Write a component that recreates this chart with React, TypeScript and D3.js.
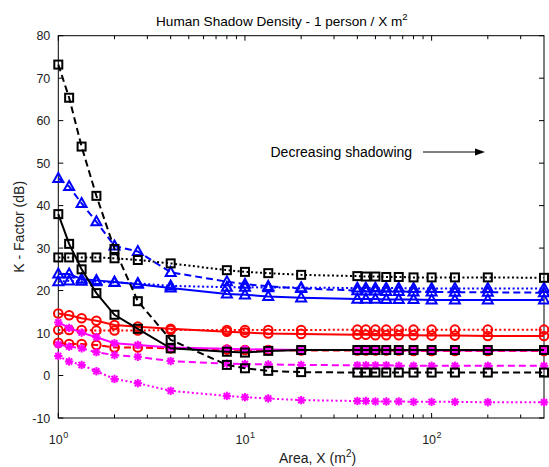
import React from "react";
import * as d3 from "d3";

const area = [1, 1.143, 1.333, 1.6, 2, 2.667, 4, 8, 10, 13.33, 20, 40, 44.44, 50, 57.14, 66.67, 80, 100, 133.3, 200, 400];

const blackDashed = [73.2, 65.4, 53.9, 42.3, 29.8, 17.5, 8.4, 2.5, 1.7, 1.1, 0.8, 0.7, 0.7, 0.7, 0.7, 0.7, 0.7, 0.7, 0.7, 0.7, 0.7];
const blackSolid = [38.0, 31.0, 25.0, 19.4, 14.3, 11.0, 6.4, 5.6, 5.4, 5.8, 6.0, 6.0, 6.0, 6.0, 6.0, 6.0, 6.0, 6.0, 6.0, 6.0, 6.0];
const blackDotted = [27.8, 27.8, 27.8, 27.8, 27.6, 27.2, 26.4, 24.8, 24.4, 24.1, 23.7, 23.4, 23.3, 23.3, 23.2, 23.2, 23.1, 23.1, 23.1, 23.1, 23.0];

const blueDashed = [46.4, 44.5, 40.5, 36.2, 30.5, 29.2, 24.3, 22.1, 21.5, 21.0, 20.5, 20.0, 19.9, 19.9, 19.8, 19.8, 19.7, 19.7, 19.6, 19.6, 19.5];
const blueSolid = [23.9, 23.9, 22.7, 22.4, 22.0, 21.5, 20.6, 19.2, 19.0, 18.6, 18.3, 18.0, 18.0, 18.0, 17.9, 17.9, 17.9, 17.8, 17.8, 17.8, 17.8];
const blueDotted = [22.1, 22.3, 22.2, 22.1, 21.9, 21.7, 21.1, 20.8, 20.8, 20.7, 20.7, 20.6, 20.6, 20.6, 20.6, 20.6, 20.5, 20.5, 20.5, 20.5, 20.5];

const redSolid = [14.6, 14.2, 13.5, 12.9, 11.9, 11.5, 11.0, 10.3, 10.1, 9.9, 9.8, 9.6, 9.6, 9.5, 9.5, 9.5, 9.5, 9.4, 9.4, 9.3, 9.3];
const redDotted = [10.7, 10.7, 10.7, 10.6, 10.6, 10.6, 10.7, 10.7, 10.7, 10.7, 10.7, 10.8, 10.8, 10.8, 10.8, 10.8, 10.8, 10.8, 10.8, 10.8, 10.8];
const redDashed = [7.7, 7.4, 7.4, 7.2, 6.6, 6.6, 6.4, 6.1, 6.0, 6.0, 5.9, 5.9, 5.9, 5.9, 5.9, 5.9, 5.8, 5.8, 5.8, 5.8, 5.8];

const magentaSolid = [12.5, 11.2, 10.1, 9.0, 7.6, 7.2, 6.6, 6.3, 6.2, 6.1, 6.0, 6.0, 6.0, 6.0, 6.0, 5.9, 5.9, 5.9, 5.9, 5.9, 5.9];
const magentaDashed = [7.3, 6.8, 6.4, 5.5, 4.8, 4.4, 3.4, 2.8, 2.7, 2.6, 2.5, 2.4, 2.4, 2.4, 2.4, 2.3, 2.3, 2.3, 2.3, 2.3, 2.3];
const magentaDotted = [4.6, 3.3, 2.5, 1.0, -0.8, -1.8, -3.6, -4.8, -5.1, -5.4, -5.8, -6.0, -6.0, -6.1, -6.1, -6.1, -6.2, -6.2, -6.2, -6.3, -6.3];

const yTicks = [-10, 0, 10, 20, 30, 40, 50, 60, 70, 80];
const xMajor = [1, 10, 100];
const xMajorExp = ["0", "1", "2"];

type Series = { values: number[]; color: string; dash: string; marker: string };

const series: Series[] = [
  { values: blueSolid, color: "#0000ff", dash: "", marker: "tri" },
  { values: blueDashed, color: "#0000ff", dash: "7,4", marker: "tri" },
  { values: blueDotted, color: "#0000ff", dash: "2,2.5", marker: "tri" },
  { values: redSolid, color: "#ff0000", dash: "", marker: "circle" },
  { values: redDashed, color: "#ff0000", dash: "7,4", marker: "circle" },
  { values: redDotted, color: "#ff0000", dash: "2,2.5", marker: "circle" },
  { values: magentaSolid, color: "#ff00ff", dash: "", marker: "star" },
  { values: magentaDashed, color: "#ff00ff", dash: "7,4", marker: "star" },
  { values: magentaDotted, color: "#ff00ff", dash: "2,2.5", marker: "star" },
  { values: blackSolid, color: "#000000", dash: "", marker: "square" },
  { values: blackDashed, color: "#000000", dash: "7,4", marker: "square" },
  { values: blackDotted, color: "#000000", dash: "2,2.5", marker: "square" },
];

const W = 549, H = 467;
const L = 58.3, R = 544, T = 35.7, B = 418;
const FONT = "'Liberation Sans', Arial, Helvetica, sans-serif";

function Marker({ type, x, y, color }: { type: string; x: number; y: number; color: string }) {
  const sw = 2;
  if (type === "square") {
    const s = 8;
    return <rect x={x - s / 2} y={y - s / 2} width={s} height={s} fill="none" stroke={color} strokeWidth={sw} />;
  }
  if (type === "circle") {
    return <circle cx={x} cy={y} r={4.3} fill="none" stroke={color} strokeWidth={sw} />;
  }
  if (type === "tri") {
    const h = 9, w = 10;
    const p = `${x},${y - h * 0.6} ${x + w / 2},${y + h * 0.4} ${x - w / 2},${y + h * 0.4}`;
    return <polygon points={p} fill="none" stroke={color} strokeWidth={sw} strokeLinejoin="miter" />;
  }
  const r = 4.2, d = r * 0.72;
  return (
    <g stroke={color} strokeWidth={sw}>
      <line x1={x - r} y1={y} x2={x + r} y2={y} />
      <line x1={x} y1={y - r} x2={x} y2={y + r} />
      <line x1={x - d} y1={y - d} x2={x + d} y2={y + d} />
      <line x1={x - d} y1={y + d} x2={x + d} y2={y - d} />
    </g>
  );
}

export default function App() {
  const x = d3.scaleLog().domain([1, 400]).range([L, R]);
  const y = d3.scaleLinear().domain([-10, 80]).range([B, T]);
  const line = d3
    .line<number>()
    .x((_, i) => x(area[i]))
    .y((d) => y(d));

  const minor: number[] = [];
  for (let dec = 1; dec <= 100; dec *= 10) {
    for (let k = 2; k <= 9; k++) {
      const v = dec * k;
      if (v < 400) minor.push(v);
    }
  }

  const tl = 5;
  return (
    <svg width={W} height={H} style={{ position: "absolute", left: 0, top: 0, background: "#fff" }} fontFamily={FONT}>
      <rect x={0} y={0} width={W} height={H} fill="#fff" />
      <rect x={L} y={T} width={R - L} height={B - T} fill="none" stroke="#000" strokeWidth={1} />
      {yTicks.map((t) => (
        <g key={"y" + t}>
          <line x1={L} x2={L + tl} y1={y(t)} y2={y(t)} stroke="#000" />
          <line x1={R} x2={R - tl} y1={y(t)} y2={y(t)} stroke="#000" />
          <text x={L - 8} y={y(t)} dy="0.36em" textAnchor="end" fontSize={12.5} fill="#222">
            {t}
          </text>
        </g>
      ))}
      {xMajor.map((t, i) => (
        <g key={"x" + t}>
          <line x1={x(t)} x2={x(t)} y1={B} y2={B - tl} stroke="#000" />
          <line x1={x(t)} x2={x(t)} y1={T} y2={T + tl} stroke="#000" />
          <text x={x(t) - 2.5} y={B + 26} textAnchor="middle" fontSize={12.5} fill="#222">
            10
          </text>
          <text x={x(t) + 7.5} y={B + 19.5} textAnchor="middle" fontSize={9} fill="#222">
            {xMajorExp[i]}
          </text>
        </g>
      ))}
      {minor.map((t) => (
        <g key={"m" + t}>
          <line x1={x(t)} x2={x(t)} y1={B} y2={B - 3.5} stroke="#000" />
          <line x1={x(t)} x2={x(t)} y1={T} y2={T + 3.5} stroke="#000" />
        </g>
      ))}
      {series.map((s, si) => (
        <g key={"s" + si}>
          <path d={line(s.values) || ""} fill="none" stroke={s.color} strokeWidth={2} strokeDasharray={s.dash || undefined} />
          {s.values.map((v, i) => (
            <Marker key={i} type={s.marker} x={x(area[i])} y={y(v)} color={s.color} />
          ))}
        </g>
      ))}
      <text x={270.5} y={157} fontSize={14} fill="#000">
        Decreasing shadowing
      </text>
      <line x1={423} x2={478} y1={152} y2={152} stroke="#000" strokeWidth={1} />
      <polygon points="485,152 475,148.5 475,155.5" fill="#000" />
      <text x={156} y={26} textAnchor="start" fontSize={13.6} fill="#000">
        Human Shadow Density - 1 person / X m
        <tspan dy={-6} fontSize={9.5}>2</tspan>
      </text>
      <text x={279} y={463} textAnchor="start" fontSize={14} fill="#222">
        Area, X (m
        <tspan dy={-6} fontSize={10}>2</tspan>
        <tspan dy={6}>)</tspan>
      </text>
      <text transform={`translate(${24},${(T + B) / 2}) rotate(-90)`} textAnchor="middle" fontSize={14} fill="#222">
        K - Factor (dB)
      </text>
    </svg>
  );
}
